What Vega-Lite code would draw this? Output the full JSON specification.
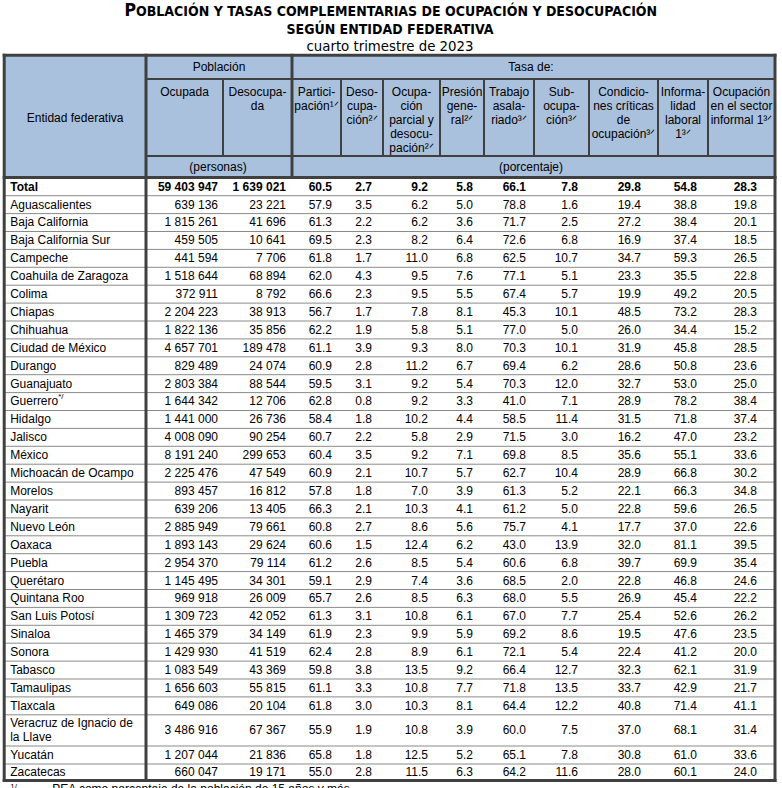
{
"$schema":"https://vega.github.io/schema/vega-lite/v6.json",
"width":782,"height":788,"autosize":{"type":"none"},"padding":0,
"config":{"view":{"stroke":null},"locale":{"number":{"decimal":".","thousands":" ","grouping":[3],"currency":["$",""]}},"text":{"font":"Liberation Sans","fontSize":12,"fill":"#000000"}},
"datasets":{"tabla":[
{"entidad":"Total","ocupada":59403947,"desocupada":1639021,"participacion":60.5,"desocupacion":2.7,"parcial":9.2,"presion":5.8,"asalariado":66.1,"subocupacion":7.8,"criticas":29.8,"informalidad":54.8,"sector_informal":28.3},
{"entidad":"Aguascalientes","ocupada":639136,"desocupada":23221,"participacion":57.9,"desocupacion":3.5,"parcial":6.2,"presion":5.0,"asalariado":78.8,"subocupacion":1.6,"criticas":19.4,"informalidad":38.8,"sector_informal":19.8},
{"entidad":"Baja California","ocupada":1815261,"desocupada":41696,"participacion":61.3,"desocupacion":2.2,"parcial":6.2,"presion":3.6,"asalariado":71.7,"subocupacion":2.5,"criticas":27.2,"informalidad":38.4,"sector_informal":20.1},
{"entidad":"Baja California Sur","ocupada":459505,"desocupada":10641,"participacion":69.5,"desocupacion":2.3,"parcial":8.2,"presion":6.4,"asalariado":72.6,"subocupacion":6.8,"criticas":16.9,"informalidad":37.4,"sector_informal":18.5},
{"entidad":"Campeche","ocupada":441594,"desocupada":7706,"participacion":61.8,"desocupacion":1.7,"parcial":11.0,"presion":6.8,"asalariado":62.5,"subocupacion":10.7,"criticas":34.7,"informalidad":59.3,"sector_informal":26.5},
{"entidad":"Coahuila de Zaragoza","ocupada":1518644,"desocupada":68894,"participacion":62.0,"desocupacion":4.3,"parcial":9.5,"presion":7.6,"asalariado":77.1,"subocupacion":5.1,"criticas":23.3,"informalidad":35.5,"sector_informal":22.8},
{"entidad":"Colima","ocupada":372911,"desocupada":8792,"participacion":66.6,"desocupacion":2.3,"parcial":9.5,"presion":5.5,"asalariado":67.4,"subocupacion":5.7,"criticas":19.9,"informalidad":49.2,"sector_informal":20.5},
{"entidad":"Chiapas","ocupada":2204223,"desocupada":38913,"participacion":56.7,"desocupacion":1.7,"parcial":7.8,"presion":8.1,"asalariado":45.3,"subocupacion":10.1,"criticas":48.5,"informalidad":73.2,"sector_informal":28.3},
{"entidad":"Chihuahua","ocupada":1822136,"desocupada":35856,"participacion":62.2,"desocupacion":1.9,"parcial":5.8,"presion":5.1,"asalariado":77.0,"subocupacion":5.0,"criticas":26.0,"informalidad":34.4,"sector_informal":15.2},
{"entidad":"Ciudad de México","ocupada":4657701,"desocupada":189478,"participacion":61.1,"desocupacion":3.9,"parcial":9.3,"presion":8.0,"asalariado":70.3,"subocupacion":10.1,"criticas":31.9,"informalidad":45.8,"sector_informal":28.5},
{"entidad":"Durango","ocupada":829489,"desocupada":24074,"participacion":60.9,"desocupacion":2.8,"parcial":11.2,"presion":6.7,"asalariado":69.4,"subocupacion":6.2,"criticas":28.6,"informalidad":50.8,"sector_informal":23.6},
{"entidad":"Guanajuato","ocupada":2803384,"desocupada":88544,"participacion":59.5,"desocupacion":3.1,"parcial":9.2,"presion":5.4,"asalariado":70.3,"subocupacion":12.0,"criticas":32.7,"informalidad":53.0,"sector_informal":25.0},
{"entidad":"Guerrero","nota":"*/","ocupada":1644342,"desocupada":12706,"participacion":62.8,"desocupacion":0.8,"parcial":9.2,"presion":3.3,"asalariado":41.0,"subocupacion":7.1,"criticas":28.9,"informalidad":78.2,"sector_informal":38.4},
{"entidad":"Hidalgo","ocupada":1441000,"desocupada":26736,"participacion":58.4,"desocupacion":1.8,"parcial":10.2,"presion":4.4,"asalariado":58.5,"subocupacion":11.4,"criticas":31.5,"informalidad":71.8,"sector_informal":37.4},
{"entidad":"Jalisco","ocupada":4008090,"desocupada":90254,"participacion":60.7,"desocupacion":2.2,"parcial":5.8,"presion":2.9,"asalariado":71.5,"subocupacion":3.0,"criticas":16.2,"informalidad":47.0,"sector_informal":23.2},
{"entidad":"México","ocupada":8191240,"desocupada":299653,"participacion":60.4,"desocupacion":3.5,"parcial":9.2,"presion":7.1,"asalariado":69.8,"subocupacion":8.5,"criticas":35.6,"informalidad":55.1,"sector_informal":33.6},
{"entidad":"Michoacán de Ocampo","ocupada":2225476,"desocupada":47549,"participacion":60.9,"desocupacion":2.1,"parcial":10.7,"presion":5.7,"asalariado":62.7,"subocupacion":10.4,"criticas":28.9,"informalidad":66.8,"sector_informal":30.2},
{"entidad":"Morelos","ocupada":893457,"desocupada":16812,"participacion":57.8,"desocupacion":1.8,"parcial":7.0,"presion":3.9,"asalariado":61.3,"subocupacion":5.2,"criticas":22.1,"informalidad":66.3,"sector_informal":34.8},
{"entidad":"Nayarit","ocupada":639206,"desocupada":13405,"participacion":66.3,"desocupacion":2.1,"parcial":10.3,"presion":4.1,"asalariado":61.2,"subocupacion":5.0,"criticas":22.8,"informalidad":59.6,"sector_informal":26.5},
{"entidad":"Nuevo León","ocupada":2885949,"desocupada":79661,"participacion":60.8,"desocupacion":2.7,"parcial":8.6,"presion":5.6,"asalariado":75.7,"subocupacion":4.1,"criticas":17.7,"informalidad":37.0,"sector_informal":22.6},
{"entidad":"Oaxaca","ocupada":1893143,"desocupada":29624,"participacion":60.6,"desocupacion":1.5,"parcial":12.4,"presion":6.2,"asalariado":43.0,"subocupacion":13.9,"criticas":32.0,"informalidad":81.1,"sector_informal":39.5},
{"entidad":"Puebla","ocupada":2954370,"desocupada":79114,"participacion":61.2,"desocupacion":2.6,"parcial":8.5,"presion":5.4,"asalariado":60.6,"subocupacion":6.8,"criticas":39.7,"informalidad":69.9,"sector_informal":35.4},
{"entidad":"Querétaro","ocupada":1145495,"desocupada":34301,"participacion":59.1,"desocupacion":2.9,"parcial":7.4,"presion":3.6,"asalariado":68.5,"subocupacion":2.0,"criticas":22.8,"informalidad":46.8,"sector_informal":24.6},
{"entidad":"Quintana Roo","ocupada":969918,"desocupada":26009,"participacion":65.7,"desocupacion":2.6,"parcial":8.5,"presion":6.3,"asalariado":68.0,"subocupacion":5.5,"criticas":26.9,"informalidad":45.4,"sector_informal":22.2},
{"entidad":"San Luis Potosí","ocupada":1309723,"desocupada":42052,"participacion":61.3,"desocupacion":3.1,"parcial":10.8,"presion":6.1,"asalariado":67.0,"subocupacion":7.7,"criticas":25.4,"informalidad":52.6,"sector_informal":26.2},
{"entidad":"Sinaloa","ocupada":1465379,"desocupada":34149,"participacion":61.9,"desocupacion":2.3,"parcial":9.9,"presion":5.9,"asalariado":69.2,"subocupacion":8.6,"criticas":19.5,"informalidad":47.6,"sector_informal":23.5},
{"entidad":"Sonora","ocupada":1429930,"desocupada":41519,"participacion":62.4,"desocupacion":2.8,"parcial":8.9,"presion":6.1,"asalariado":72.1,"subocupacion":5.4,"criticas":22.4,"informalidad":41.2,"sector_informal":20.0},
{"entidad":"Tabasco","ocupada":1083549,"desocupada":43369,"participacion":59.8,"desocupacion":3.8,"parcial":13.5,"presion":9.2,"asalariado":66.4,"subocupacion":12.7,"criticas":32.3,"informalidad":62.1,"sector_informal":31.9},
{"entidad":"Tamaulipas","ocupada":1656603,"desocupada":55815,"participacion":61.1,"desocupacion":3.3,"parcial":10.8,"presion":7.7,"asalariado":71.8,"subocupacion":13.5,"criticas":33.7,"informalidad":42.9,"sector_informal":21.7},
{"entidad":"Tlaxcala","ocupada":649086,"desocupada":20104,"participacion":61.8,"desocupacion":3.0,"parcial":10.3,"presion":8.1,"asalariado":64.4,"subocupacion":12.2,"criticas":40.8,"informalidad":71.4,"sector_informal":41.1},
{"entidad":"Veracruz de Ignacio de\nla Llave","ocupada":3486916,"desocupada":67367,"participacion":55.9,"desocupacion":1.9,"parcial":10.8,"presion":3.9,"asalariado":60.0,"subocupacion":7.5,"criticas":37.0,"informalidad":68.1,"sector_informal":31.4},
{"entidad":"Yucatán","ocupada":1207044,"desocupada":21836,"participacion":65.8,"desocupacion":1.8,"parcial":12.5,"presion":5.2,"asalariado":65.1,"subocupacion":7.8,"criticas":30.8,"informalidad":61.0,"sector_informal":33.6},
{"entidad":"Zacatecas","ocupada":660047,"desocupada":19171,"participacion":55.0,"desocupacion":2.8,"parcial":11.5,"presion":6.3,"asalariado":64.2,"subocupacion":11.6,"criticas":28.0,"informalidad":60.1,"sector_informal":24.0}
]},
"resolve":{"scale":{"y":"independent"}},
"layer":[
{"layer":[
{"data":{"values":[{}]},"mark":{"type":"rect","fill":"#aac1de"},"encoding":{"x":{"datum":0,"type":"quantitative","scale":{"domain":[0,1,2,3,4,5,6,7,8,9,10,11,12],"range":[4.2,146,223,292,341,383,440,484,534,589,658,708,775],"nice":false,"zero":false},"axis":null},"x2":{"datum":12},"y":{"datum":-3,"type":"quantitative","scale":{"domain":[-6,-5,-4,-3,-2,-1,0,1,30,31,32,33],"range":[16,33.5,50.5,55.3,79,156,177.5,195.7,714.8,746,764,780.5],"nice":false,"zero":false},"axis":null},"y2":{"datum":0}}},
{"data":{"name":"tabla"},"transform":[{"window":[{"op":"row_number","as":"n"}]}],"mark":{"type":"rule","stroke":"#8a8a8a","strokeWidth":1},"encoding":{"x":{"datum":0,"type":"quantitative","scale":{"domain":[0,1,2,3,4,5,6,7,8,9,10,11,12],"range":[4.2,146,223,292,341,383,440,484,534,589,658,708,775],"nice":false,"zero":false},"axis":null},"x2":{"datum":12},"y":{"field":"n","type":"quantitative","scale":{"domain":[-6,-5,-4,-3,-2,-1,0,1,30,31,32,33],"range":[16,33.5,50.5,55.3,79,156,177.5,195.7,714.8,746,764,780.5],"nice":false,"zero":false},"axis":null}}},
{"data":{"values":[{}]},"mark":{"type":"rule","stroke":"#404040","strokeWidth":2},"encoding":{"x":{"datum":1,"type":"quantitative","scale":{"domain":[0,1,2,3,4,5,6,7,8,9,10,11,12],"range":[4.2,146,223,292,341,383,440,484,534,589,658,708,775],"nice":false,"zero":false},"axis":null},"x2":{"datum":12},"y":{"datum":-2,"type":"quantitative","scale":{"domain":[-6,-5,-4,-3,-2,-1,0,1,30,31,32,33],"range":[16,33.5,50.5,55.3,79,156,177.5,195.7,714.8,746,764,780.5],"nice":false,"zero":false},"axis":null}}},
{"data":{"values":[{}]},"mark":{"type":"rule","stroke":"#404040","strokeWidth":2},"encoding":{"x":{"datum":1,"type":"quantitative","scale":{"domain":[0,1,2,3,4,5,6,7,8,9,10,11,12],"range":[4.2,146,223,292,341,383,440,484,534,589,658,708,775],"nice":false,"zero":false},"axis":null},"x2":{"datum":12},"y":{"datum":-1,"type":"quantitative","scale":{"domain":[-6,-5,-4,-3,-2,-1,0,1,30,31,32,33],"range":[16,33.5,50.5,55.3,79,156,177.5,195.7,714.8,746,764,780.5],"nice":false,"zero":false},"axis":null}}},
{"data":{"values":[{}]},"mark":{"type":"rule","stroke":"#404040","strokeWidth":2},"encoding":{"x":{"datum":2,"type":"quantitative","scale":{"domain":[0,1,2,3,4,5,6,7,8,9,10,11,12],"range":[4.2,146,223,292,341,383,440,484,534,589,658,708,775],"nice":false,"zero":false},"axis":null},"y":{"datum":-2,"type":"quantitative","scale":{"domain":[-6,-5,-4,-3,-2,-1,0,1,30,31,32,33],"range":[16,33.5,50.5,55.3,79,156,177.5,195.7,714.8,746,764,780.5],"nice":false,"zero":false},"axis":null},"y2":{"datum":-1}}},
{"data":{"values":[{}]},"mark":{"type":"rule","stroke":"#404040","strokeWidth":2},"encoding":{"x":{"datum":4,"type":"quantitative","scale":{"domain":[0,1,2,3,4,5,6,7,8,9,10,11,12],"range":[4.2,146,223,292,341,383,440,484,534,589,658,708,775],"nice":false,"zero":false},"axis":null},"y":{"datum":-2,"type":"quantitative","scale":{"domain":[-6,-5,-4,-3,-2,-1,0,1,30,31,32,33],"range":[16,33.5,50.5,55.3,79,156,177.5,195.7,714.8,746,764,780.5],"nice":false,"zero":false},"axis":null},"y2":{"datum":-1}}},
{"data":{"values":[{}]},"mark":{"type":"rule","stroke":"#404040","strokeWidth":2},"encoding":{"x":{"datum":5,"type":"quantitative","scale":{"domain":[0,1,2,3,4,5,6,7,8,9,10,11,12],"range":[4.2,146,223,292,341,383,440,484,534,589,658,708,775],"nice":false,"zero":false},"axis":null},"y":{"datum":-2,"type":"quantitative","scale":{"domain":[-6,-5,-4,-3,-2,-1,0,1,30,31,32,33],"range":[16,33.5,50.5,55.3,79,156,177.5,195.7,714.8,746,764,780.5],"nice":false,"zero":false},"axis":null},"y2":{"datum":-1}}},
{"data":{"values":[{}]},"mark":{"type":"rule","stroke":"#404040","strokeWidth":2},"encoding":{"x":{"datum":6,"type":"quantitative","scale":{"domain":[0,1,2,3,4,5,6,7,8,9,10,11,12],"range":[4.2,146,223,292,341,383,440,484,534,589,658,708,775],"nice":false,"zero":false},"axis":null},"y":{"datum":-2,"type":"quantitative","scale":{"domain":[-6,-5,-4,-3,-2,-1,0,1,30,31,32,33],"range":[16,33.5,50.5,55.3,79,156,177.5,195.7,714.8,746,764,780.5],"nice":false,"zero":false},"axis":null},"y2":{"datum":-1}}},
{"data":{"values":[{}]},"mark":{"type":"rule","stroke":"#404040","strokeWidth":2},"encoding":{"x":{"datum":7,"type":"quantitative","scale":{"domain":[0,1,2,3,4,5,6,7,8,9,10,11,12],"range":[4.2,146,223,292,341,383,440,484,534,589,658,708,775],"nice":false,"zero":false},"axis":null},"y":{"datum":-2,"type":"quantitative","scale":{"domain":[-6,-5,-4,-3,-2,-1,0,1,30,31,32,33],"range":[16,33.5,50.5,55.3,79,156,177.5,195.7,714.8,746,764,780.5],"nice":false,"zero":false},"axis":null},"y2":{"datum":-1}}},
{"data":{"values":[{}]},"mark":{"type":"rule","stroke":"#404040","strokeWidth":2},"encoding":{"x":{"datum":8,"type":"quantitative","scale":{"domain":[0,1,2,3,4,5,6,7,8,9,10,11,12],"range":[4.2,146,223,292,341,383,440,484,534,589,658,708,775],"nice":false,"zero":false},"axis":null},"y":{"datum":-2,"type":"quantitative","scale":{"domain":[-6,-5,-4,-3,-2,-1,0,1,30,31,32,33],"range":[16,33.5,50.5,55.3,79,156,177.5,195.7,714.8,746,764,780.5],"nice":false,"zero":false},"axis":null},"y2":{"datum":-1}}},
{"data":{"values":[{}]},"mark":{"type":"rule","stroke":"#404040","strokeWidth":2},"encoding":{"x":{"datum":9,"type":"quantitative","scale":{"domain":[0,1,2,3,4,5,6,7,8,9,10,11,12],"range":[4.2,146,223,292,341,383,440,484,534,589,658,708,775],"nice":false,"zero":false},"axis":null},"y":{"datum":-2,"type":"quantitative","scale":{"domain":[-6,-5,-4,-3,-2,-1,0,1,30,31,32,33],"range":[16,33.5,50.5,55.3,79,156,177.5,195.7,714.8,746,764,780.5],"nice":false,"zero":false},"axis":null},"y2":{"datum":-1}}},
{"data":{"values":[{}]},"mark":{"type":"rule","stroke":"#404040","strokeWidth":2},"encoding":{"x":{"datum":10,"type":"quantitative","scale":{"domain":[0,1,2,3,4,5,6,7,8,9,10,11,12],"range":[4.2,146,223,292,341,383,440,484,534,589,658,708,775],"nice":false,"zero":false},"axis":null},"y":{"datum":-2,"type":"quantitative","scale":{"domain":[-6,-5,-4,-3,-2,-1,0,1,30,31,32,33],"range":[16,33.5,50.5,55.3,79,156,177.5,195.7,714.8,746,764,780.5],"nice":false,"zero":false},"axis":null},"y2":{"datum":-1}}},
{"data":{"values":[{}]},"mark":{"type":"rule","stroke":"#404040","strokeWidth":2},"encoding":{"x":{"datum":11,"type":"quantitative","scale":{"domain":[0,1,2,3,4,5,6,7,8,9,10,11,12],"range":[4.2,146,223,292,341,383,440,484,534,589,658,708,775],"nice":false,"zero":false},"axis":null},"y":{"datum":-2,"type":"quantitative","scale":{"domain":[-6,-5,-4,-3,-2,-1,0,1,30,31,32,33],"range":[16,33.5,50.5,55.3,79,156,177.5,195.7,714.8,746,764,780.5],"nice":false,"zero":false},"axis":null},"y2":{"datum":-1}}},
{"data":{"values":[{}]},"mark":{"type":"rule","stroke":"#404040","strokeWidth":3,"strokeCap":"square"},"encoding":{"x":{"datum":3,"type":"quantitative","scale":{"domain":[0,1,2,3,4,5,6,7,8,9,10,11,12],"range":[4.2,146,223,292,341,383,440,484,534,589,658,708,775],"nice":false,"zero":false},"axis":null},"y":{"datum":-3,"type":"quantitative","scale":{"domain":[-6,-5,-4,-3,-2,-1,0,1,30,31,32,33],"range":[16,33.5,50.5,55.3,79,156,177.5,195.7,714.8,746,764,780.5],"nice":false,"zero":false},"axis":null},"y2":{"datum":0}}},
{"data":{"values":[{}]},"mark":{"type":"rule","stroke":"#404040","strokeWidth":3,"strokeCap":"square"},"encoding":{"x":{"datum":1,"type":"quantitative","scale":{"domain":[0,1,2,3,4,5,6,7,8,9,10,11,12],"range":[4.2,146,223,292,341,383,440,484,534,589,658,708,775],"nice":false,"zero":false},"axis":null},"y":{"datum":-3,"type":"quantitative","scale":{"domain":[-6,-5,-4,-3,-2,-1,0,1,30,31,32,33],"range":[16,33.5,50.5,55.3,79,156,177.5,195.7,714.8,746,764,780.5],"nice":false,"zero":false},"axis":null},"y2":{"datum":33}}},
{"data":{"values":[{}]},"mark":{"type":"rule","stroke":"#404040","strokeWidth":3,"strokeCap":"square"},"encoding":{"x":{"datum":0,"type":"quantitative","scale":{"domain":[0,1,2,3,4,5,6,7,8,9,10,11,12],"range":[4.2,146,223,292,341,383,440,484,534,589,658,708,775],"nice":false,"zero":false},"axis":null},"y":{"datum":-3,"type":"quantitative","scale":{"domain":[-6,-5,-4,-3,-2,-1,0,1,30,31,32,33],"range":[16,33.5,50.5,55.3,79,156,177.5,195.7,714.8,746,764,780.5],"nice":false,"zero":false},"axis":null},"y2":{"datum":33}}},
{"data":{"values":[{}]},"mark":{"type":"rule","stroke":"#404040","strokeWidth":3,"strokeCap":"square"},"encoding":{"x":{"datum":12,"type":"quantitative","scale":{"domain":[0,1,2,3,4,5,6,7,8,9,10,11,12],"range":[4.2,146,223,292,341,383,440,484,534,589,658,708,775],"nice":false,"zero":false},"axis":null},"y":{"datum":-3,"type":"quantitative","scale":{"domain":[-6,-5,-4,-3,-2,-1,0,1,30,31,32,33],"range":[16,33.5,50.5,55.3,79,156,177.5,195.7,714.8,746,764,780.5],"nice":false,"zero":false},"axis":null},"y2":{"datum":33}}},
{"data":{"values":[{}]},"mark":{"type":"rule","stroke":"#404040","strokeWidth":3,"strokeCap":"square"},"encoding":{"x":{"datum":0,"type":"quantitative","scale":{"domain":[0,1,2,3,4,5,6,7,8,9,10,11,12],"range":[4.2,146,223,292,341,383,440,484,534,589,658,708,775],"nice":false,"zero":false},"axis":null},"x2":{"datum":12},"y":{"datum":-3,"type":"quantitative","scale":{"domain":[-6,-5,-4,-3,-2,-1,0,1,30,31,32,33],"range":[16,33.5,50.5,55.3,79,156,177.5,195.7,714.8,746,764,780.5],"nice":false,"zero":false},"axis":null}}},
{"data":{"values":[{}]},"mark":{"type":"rule","stroke":"#404040","strokeWidth":3,"strokeCap":"square"},"encoding":{"x":{"datum":0,"type":"quantitative","scale":{"domain":[0,1,2,3,4,5,6,7,8,9,10,11,12],"range":[4.2,146,223,292,341,383,440,484,534,589,658,708,775],"nice":false,"zero":false},"axis":null},"x2":{"datum":12},"y":{"datum":0,"type":"quantitative","scale":{"domain":[-6,-5,-4,-3,-2,-1,0,1,30,31,32,33],"range":[16,33.5,50.5,55.3,79,156,177.5,195.7,714.8,746,764,780.5],"nice":false,"zero":false},"axis":null}}},
{"data":{"values":[{}]},"mark":{"type":"rule","stroke":"#404040","strokeWidth":3,"strokeCap":"square"},"encoding":{"x":{"datum":0,"type":"quantitative","scale":{"domain":[0,1,2,3,4,5,6,7,8,9,10,11,12],"range":[4.2,146,223,292,341,383,440,484,534,589,658,708,775],"nice":false,"zero":false},"axis":null},"x2":{"datum":12},"y":{"datum":33,"type":"quantitative","scale":{"domain":[-6,-5,-4,-3,-2,-1,0,1,30,31,32,33],"range":[16,33.5,50.5,55.3,79,156,177.5,195.7,714.8,746,764,780.5],"nice":false,"zero":false},"axis":null}}},
{"data":{"values":[{}]},"mark":{"type":"text","align":"right","baseline":"alphabetic","dx":-10,"font":"DejaVu Sans Condensed","fontWeight":"bold","fontSize":17.5},"encoding":{"text":{"value":"P"},"x":{"datum":1,"type":"quantitative","scale":{"domain":[0,1,2,3,4,5,6,7,8,9,10,11,12],"range":[4.2,146,223,292,341,383,440,484,534,589,658,708,775],"nice":false,"zero":false},"axis":null},"y":{"datum":-6,"type":"quantitative","scale":{"domain":[-6,-5,-4,-3,-2,-1,0,1,30,31,32,33],"range":[16,33.5,50.5,55.3,79,156,177.5,195.7,714.8,746,764,780.5],"nice":false,"zero":false},"axis":null}}},
{"data":{"values":[{}]},"mark":{"type":"text","align":"left","baseline":"alphabetic","dx":-10,"font":"DejaVu Sans Condensed","fontWeight":"bold","fontSize":14},"encoding":{"text":{"value":"OBLACIÓN Y TASAS COMPLEMENTARIAS DE OCUPACIÓN Y DESOCUPACIÓN"},"x":{"datum":1,"type":"quantitative","scale":{"domain":[0,1,2,3,4,5,6,7,8,9,10,11,12],"range":[4.2,146,223,292,341,383,440,484,534,589,658,708,775],"nice":false,"zero":false},"axis":null},"y":{"datum":-6,"type":"quantitative","scale":{"domain":[-6,-5,-4,-3,-2,-1,0,1,30,31,32,33],"range":[16,33.5,50.5,55.3,79,156,177.5,195.7,714.8,746,764,780.5],"nice":false,"zero":false},"axis":null}}},
{"data":{"values":[{}]},"mark":{"type":"text","align":"center","baseline":"alphabetic","dx":7,"font":"DejaVu Sans Condensed","fontWeight":"bold","fontSize":14},"encoding":{"text":{"value":"SEGÚN ENTIDAD FEDERATIVA"},"x":{"datum":5,"type":"quantitative","scale":{"domain":[0,1,2,3,4,5,6,7,8,9,10,11,12],"range":[4.2,146,223,292,341,383,440,484,534,589,658,708,775],"nice":false,"zero":false},"axis":null},"y":{"datum":-5,"type":"quantitative","scale":{"domain":[-6,-5,-4,-3,-2,-1,0,1,30,31,32,33],"range":[16,33.5,50.5,55.3,79,156,177.5,195.7,714.8,746,764,780.5],"nice":false,"zero":false},"axis":null}}},
{"data":{"values":[{}]},"mark":{"type":"text","align":"center","baseline":"alphabetic","dx":7,"font":"DejaVu Sans Condensed","fontSize":14.8},"encoding":{"text":{"value":"cuarto trimestre de 2023"},"x":{"datum":5,"type":"quantitative","scale":{"domain":[0,1,2,3,4,5,6,7,8,9,10,11,12],"range":[4.2,146,223,292,341,383,440,484,534,589,658,708,775],"nice":false,"zero":false},"axis":null},"y":{"datum":-4,"type":"quantitative","scale":{"domain":[-6,-5,-4,-3,-2,-1,0,1,30,31,32,33],"range":[16,33.5,50.5,55.3,79,156,177.5,195.7,714.8,746,764,780.5],"nice":false,"zero":false},"axis":null}}},
{"data":{"values":[{}]},"mark":{"type":"text","align":"center","baseline":"middle"},"encoding":{"text":{"value":"Entidad federativa"},"x":{"datum":0.5,"type":"quantitative","scale":{"domain":[0,1,2,3,4,5,6,7,8,9,10,11,12],"range":[4.2,146,223,292,341,383,440,484,534,589,658,708,775],"nice":false,"zero":false},"axis":null},"y":{"datum":-1.5,"type":"quantitative","scale":{"domain":[-6,-5,-4,-3,-2,-1,0,1,30,31,32,33],"range":[16,33.5,50.5,55.3,79,156,177.5,195.7,714.8,746,764,780.5],"nice":false,"zero":false},"axis":null}}},
{"data":{"values":[{}]},"mark":{"type":"text","align":"center","baseline":"middle","dx":-4},"encoding":{"text":{"value":"Población"},"x":{"datum":2,"type":"quantitative","scale":{"domain":[0,1,2,3,4,5,6,7,8,9,10,11,12],"range":[4.2,146,223,292,341,383,440,484,534,589,658,708,775],"nice":false,"zero":false},"axis":null},"y":{"datum":-2.5,"type":"quantitative","scale":{"domain":[-6,-5,-4,-3,-2,-1,0,1,30,31,32,33],"range":[16,33.5,50.5,55.3,79,156,177.5,195.7,714.8,746,764,780.5],"nice":false,"zero":false},"axis":null}}},
{"data":{"values":[{}]},"mark":{"type":"text","align":"center","baseline":"middle","dx":-3},"encoding":{"text":{"value":"Tasa de:"},"x":{"datum":8,"type":"quantitative","scale":{"domain":[0,1,2,3,4,5,6,7,8,9,10,11,12],"range":[4.2,146,223,292,341,383,440,484,534,589,658,708,775],"nice":false,"zero":false},"axis":null},"y":{"datum":-2.5,"type":"quantitative","scale":{"domain":[-6,-5,-4,-3,-2,-1,0,1,30,31,32,33],"range":[16,33.5,50.5,55.3,79,156,177.5,195.7,714.8,746,764,780.5],"nice":false,"zero":false},"axis":null}}},
{"data":{"values":[{}]},"mark":{"type":"text","align":"center","baseline":"middle","dx":-5},"encoding":{"text":{"value":"(personas)"},"x":{"datum":2,"type":"quantitative","scale":{"domain":[0,1,2,3,4,5,6,7,8,9,10,11,12],"range":[4.2,146,223,292,341,383,440,484,534,589,658,708,775],"nice":false,"zero":false},"axis":null},"y":{"datum":-0.5,"type":"quantitative","scale":{"domain":[-6,-5,-4,-3,-2,-1,0,1,30,31,32,33],"range":[16,33.5,50.5,55.3,79,156,177.5,195.7,714.8,746,764,780.5],"nice":false,"zero":false},"axis":null}}},
{"data":{"values":[{}]},"mark":{"type":"text","align":"center","baseline":"middle","dx":-3},"encoding":{"text":{"value":"(porcentaje)"},"x":{"datum":8,"type":"quantitative","scale":{"domain":[0,1,2,3,4,5,6,7,8,9,10,11,12],"range":[4.2,146,223,292,341,383,440,484,534,589,658,708,775],"nice":false,"zero":false},"axis":null},"y":{"datum":-0.5,"type":"quantitative","scale":{"domain":[-6,-5,-4,-3,-2,-1,0,1,30,31,32,33],"range":[16,33.5,50.5,55.3,79,156,177.5,195.7,714.8,746,764,780.5],"nice":false,"zero":false},"axis":null}}},
{"data":{"values":[{}]},"mark":{"type":"text","align":"center","baseline":"top","dy":8,"lineHeight":14},"encoding":{"text":{"value":["Ocupada"]},"x":{"datum":1.5,"type":"quantitative","scale":{"domain":[0,1,2,3,4,5,6,7,8,9,10,11,12],"range":[4.2,146,223,292,341,383,440,484,534,589,658,708,775],"nice":false,"zero":false},"axis":null},"y":{"datum":-2,"type":"quantitative","scale":{"domain":[-6,-5,-4,-3,-2,-1,0,1,30,31,32,33],"range":[16,33.5,50.5,55.3,79,156,177.5,195.7,714.8,746,764,780.5],"nice":false,"zero":false},"axis":null}}},
{"data":{"values":[{}]},"mark":{"type":"text","align":"center","baseline":"top","dy":8,"lineHeight":14},"encoding":{"text":{"value":["Desocupa-","da"]},"x":{"datum":2.5,"type":"quantitative","scale":{"domain":[0,1,2,3,4,5,6,7,8,9,10,11,12],"range":[4.2,146,223,292,341,383,440,484,534,589,658,708,775],"nice":false,"zero":false},"axis":null},"y":{"datum":-2,"type":"quantitative","scale":{"domain":[-6,-5,-4,-3,-2,-1,0,1,30,31,32,33],"range":[16,33.5,50.5,55.3,79,156,177.5,195.7,714.8,746,764,780.5],"nice":false,"zero":false},"axis":null}}},
{"data":{"values":[{}]},"mark":{"type":"text","align":"center","baseline":"top","dy":8,"lineHeight":14},"encoding":{"text":{"value":["Partici-","pación¹ᐟ"]},"x":{"datum":3.5,"type":"quantitative","scale":{"domain":[0,1,2,3,4,5,6,7,8,9,10,11,12],"range":[4.2,146,223,292,341,383,440,484,534,589,658,708,775],"nice":false,"zero":false},"axis":null},"y":{"datum":-2,"type":"quantitative","scale":{"domain":[-6,-5,-4,-3,-2,-1,0,1,30,31,32,33],"range":[16,33.5,50.5,55.3,79,156,177.5,195.7,714.8,746,764,780.5],"nice":false,"zero":false},"axis":null}}},
{"data":{"values":[{}]},"mark":{"type":"text","align":"center","baseline":"top","dy":8,"lineHeight":14},"encoding":{"text":{"value":["Deso-","cupa-","ción²ᐟ"]},"x":{"datum":4.5,"type":"quantitative","scale":{"domain":[0,1,2,3,4,5,6,7,8,9,10,11,12],"range":[4.2,146,223,292,341,383,440,484,534,589,658,708,775],"nice":false,"zero":false},"axis":null},"y":{"datum":-2,"type":"quantitative","scale":{"domain":[-6,-5,-4,-3,-2,-1,0,1,30,31,32,33],"range":[16,33.5,50.5,55.3,79,156,177.5,195.7,714.8,746,764,780.5],"nice":false,"zero":false},"axis":null}}},
{"data":{"values":[{}]},"mark":{"type":"text","align":"center","baseline":"top","dy":8,"lineHeight":14},"encoding":{"text":{"value":["Ocupa-","ción","parcial y","desocu-","pación²ᐟ"]},"x":{"datum":5.5,"type":"quantitative","scale":{"domain":[0,1,2,3,4,5,6,7,8,9,10,11,12],"range":[4.2,146,223,292,341,383,440,484,534,589,658,708,775],"nice":false,"zero":false},"axis":null},"y":{"datum":-2,"type":"quantitative","scale":{"domain":[-6,-5,-4,-3,-2,-1,0,1,30,31,32,33],"range":[16,33.5,50.5,55.3,79,156,177.5,195.7,714.8,746,764,780.5],"nice":false,"zero":false},"axis":null}}},
{"data":{"values":[{}]},"mark":{"type":"text","align":"center","baseline":"top","dy":8,"lineHeight":14},"encoding":{"text":{"value":["Presión","gene-","ral²ᐟ"]},"x":{"datum":6.5,"type":"quantitative","scale":{"domain":[0,1,2,3,4,5,6,7,8,9,10,11,12],"range":[4.2,146,223,292,341,383,440,484,534,589,658,708,775],"nice":false,"zero":false},"axis":null},"y":{"datum":-2,"type":"quantitative","scale":{"domain":[-6,-5,-4,-3,-2,-1,0,1,30,31,32,33],"range":[16,33.5,50.5,55.3,79,156,177.5,195.7,714.8,746,764,780.5],"nice":false,"zero":false},"axis":null}}},
{"data":{"values":[{}]},"mark":{"type":"text","align":"center","baseline":"top","dy":8,"lineHeight":14},"encoding":{"text":{"value":["Trabajo","asala-","riado³ᐟ"]},"x":{"datum":7.5,"type":"quantitative","scale":{"domain":[0,1,2,3,4,5,6,7,8,9,10,11,12],"range":[4.2,146,223,292,341,383,440,484,534,589,658,708,775],"nice":false,"zero":false},"axis":null},"y":{"datum":-2,"type":"quantitative","scale":{"domain":[-6,-5,-4,-3,-2,-1,0,1,30,31,32,33],"range":[16,33.5,50.5,55.3,79,156,177.5,195.7,714.8,746,764,780.5],"nice":false,"zero":false},"axis":null}}},
{"data":{"values":[{}]},"mark":{"type":"text","align":"center","baseline":"top","dy":8,"lineHeight":14},"encoding":{"text":{"value":["Sub-","ocupa-","ción³ᐟ"]},"x":{"datum":8.5,"type":"quantitative","scale":{"domain":[0,1,2,3,4,5,6,7,8,9,10,11,12],"range":[4.2,146,223,292,341,383,440,484,534,589,658,708,775],"nice":false,"zero":false},"axis":null},"y":{"datum":-2,"type":"quantitative","scale":{"domain":[-6,-5,-4,-3,-2,-1,0,1,30,31,32,33],"range":[16,33.5,50.5,55.3,79,156,177.5,195.7,714.8,746,764,780.5],"nice":false,"zero":false},"axis":null}}},
{"data":{"values":[{}]},"mark":{"type":"text","align":"center","baseline":"top","dy":8,"lineHeight":14},"encoding":{"text":{"value":["Condicio-","nes críticas","de","ocupación³ᐟ"]},"x":{"datum":9.5,"type":"quantitative","scale":{"domain":[0,1,2,3,4,5,6,7,8,9,10,11,12],"range":[4.2,146,223,292,341,383,440,484,534,589,658,708,775],"nice":false,"zero":false},"axis":null},"y":{"datum":-2,"type":"quantitative","scale":{"domain":[-6,-5,-4,-3,-2,-1,0,1,30,31,32,33],"range":[16,33.5,50.5,55.3,79,156,177.5,195.7,714.8,746,764,780.5],"nice":false,"zero":false},"axis":null}}},
{"data":{"values":[{}]},"mark":{"type":"text","align":"center","baseline":"top","dy":8,"lineHeight":14},"encoding":{"text":{"value":["Informa-","lidad","laboral","1³ᐟ"]},"x":{"datum":10.5,"type":"quantitative","scale":{"domain":[0,1,2,3,4,5,6,7,8,9,10,11,12],"range":[4.2,146,223,292,341,383,440,484,534,589,658,708,775],"nice":false,"zero":false},"axis":null},"y":{"datum":-2,"type":"quantitative","scale":{"domain":[-6,-5,-4,-3,-2,-1,0,1,30,31,32,33],"range":[16,33.5,50.5,55.3,79,156,177.5,195.7,714.8,746,764,780.5],"nice":false,"zero":false},"axis":null}}},
{"data":{"values":[{}]},"mark":{"type":"text","align":"center","baseline":"top","dy":8,"lineHeight":14},"encoding":{"text":{"value":["Ocupación","en el sector","informal 1³ᐟ"]},"x":{"datum":11.5,"type":"quantitative","scale":{"domain":[0,1,2,3,4,5,6,7,8,9,10,11,12],"range":[4.2,146,223,292,341,383,440,484,534,589,658,708,775],"nice":false,"zero":false},"axis":null},"y":{"datum":-2,"type":"quantitative","scale":{"domain":[-6,-5,-4,-3,-2,-1,0,1,30,31,32,33],"range":[16,33.5,50.5,55.3,79,156,177.5,195.7,714.8,746,764,780.5],"nice":false,"zero":false},"axis":null}}},
{"data":{"values":[{}]},"mark":{"type":"text","align":"left","baseline":"top","dx":6,"dy":2,"fontSize":8},"encoding":{"text":{"value":"1/"},"x":{"datum":0,"type":"quantitative","scale":{"domain":[0,1,2,3,4,5,6,7,8,9,10,11,12],"range":[4.2,146,223,292,341,383,440,484,534,589,658,708,775],"nice":false,"zero":false},"axis":null},"y":{"datum":33,"type":"quantitative","scale":{"domain":[-6,-5,-4,-3,-2,-1,0,1,30,31,32,33],"range":[16,33.5,50.5,55.3,79,156,177.5,195.7,714.8,746,764,780.5],"nice":false,"zero":false},"axis":null}}},
{"data":{"values":[{}]},"mark":{"type":"text","align":"left","baseline":"top","dx":48,"dy":3},"encoding":{"text":{"value":"PEA como porcentaje de la población de 15 años y más"},"x":{"datum":0,"type":"quantitative","scale":{"domain":[0,1,2,3,4,5,6,7,8,9,10,11,12],"range":[4.2,146,223,292,341,383,440,484,534,589,658,708,775],"nice":false,"zero":false},"axis":null},"y":{"datum":33,"type":"quantitative","scale":{"domain":[-6,-5,-4,-3,-2,-1,0,1,30,31,32,33],"range":[16,33.5,50.5,55.3,79,156,177.5,195.7,714.8,746,764,780.5],"nice":false,"zero":false},"axis":null}}}
]},
{"data":{"name":"tabla"},"transform":[{"window":[{"op":"row_number","as":"n"}]}],
 "encoding":{"y":{"field":"n","type":"quantitative","scale":{"domain":[1,30,31,32,33],"range":[186.6,705.9,730.4,755,772.3],"nice":false,"zero":false},"axis":null}},
 "layer":[
{"mark":{"type":"text","align":"left","baseline":"middle","dx":6,"lineBreak":"\n","lineHeight":14,"dy":{"expr":"indexof(datum.entidad, '\\n') >= 0 ? -7 : 0"},"fontWeight":{"expr":"datum.entidad === 'Total' ? 'bold' : 'normal'"}},"encoding":{"text":{"field":"entidad","type":"nominal"},"x":{"datum":0,"type":"quantitative","scale":{"domain":[0,1,2,3,4,5,6,7,8,9,10,11,12],"range":[4.2,146,223,292,341,383,440,484,534,589,658,708,775],"nice":false,"zero":false},"axis":null}}},
{"transform":[{"filter":"datum.nota"}],"mark":{"type":"text","align":"left","baseline":"middle","dx":54,"dy":-4,"fontSize":8},"encoding":{"text":{"field":"nota","type":"nominal"},"x":{"datum":0,"type":"quantitative","scale":{"domain":[0,1,2,3,4,5,6,7,8,9,10,11,12],"range":[4.2,146,223,292,341,383,440,484,534,589,658,708,775],"nice":false,"zero":false},"axis":null}}},
{"mark":{"type":"text","align":"right","baseline":"middle","dx":-5,"fontWeight":{"expr":"datum.entidad === 'Total' ? 'bold' : 'normal'"}},"encoding":{"text":{"field":"ocupada","type":"quantitative","format":",d"},"x":{"datum":2,"type":"quantitative","scale":{"domain":[0,1,2,3,4,5,6,7,8,9,10,11,12],"range":[4.2,146,223,292,341,383,440,484,534,589,658,708,775],"nice":false,"zero":false},"axis":null}}},
{"mark":{"type":"text","align":"right","baseline":"middle","dx":-6,"fontWeight":{"expr":"datum.entidad === 'Total' ? 'bold' : 'normal'"}},"encoding":{"text":{"field":"desocupada","type":"quantitative","format":",d"},"x":{"datum":3,"type":"quantitative","scale":{"domain":[0,1,2,3,4,5,6,7,8,9,10,11,12],"range":[4.2,146,223,292,341,383,440,484,534,589,658,708,775],"nice":false,"zero":false},"axis":null}}},
{"mark":{"type":"text","align":"right","baseline":"middle","dx":-9,"fontWeight":{"expr":"datum.entidad === 'Total' ? 'bold' : 'normal'"}},"encoding":{"text":{"field":"participacion","type":"quantitative","format":".1f"},"x":{"datum":4,"type":"quantitative","scale":{"domain":[0,1,2,3,4,5,6,7,8,9,10,11,12],"range":[4.2,146,223,292,341,383,440,484,534,589,658,708,775],"nice":false,"zero":false},"axis":null}}},
{"mark":{"type":"text","align":"right","baseline":"middle","dx":-11,"fontWeight":{"expr":"datum.entidad === 'Total' ? 'bold' : 'normal'"}},"encoding":{"text":{"field":"desocupacion","type":"quantitative","format":".1f"},"x":{"datum":5,"type":"quantitative","scale":{"domain":[0,1,2,3,4,5,6,7,8,9,10,11,12],"range":[4.2,146,223,292,341,383,440,484,534,589,658,708,775],"nice":false,"zero":false},"axis":null}}},
{"mark":{"type":"text","align":"right","baseline":"middle","dx":-12,"fontWeight":{"expr":"datum.entidad === 'Total' ? 'bold' : 'normal'"}},"encoding":{"text":{"field":"parcial","type":"quantitative","format":".1f"},"x":{"datum":6,"type":"quantitative","scale":{"domain":[0,1,2,3,4,5,6,7,8,9,10,11,12],"range":[4.2,146,223,292,341,383,440,484,534,589,658,708,775],"nice":false,"zero":false},"axis":null}}},
{"mark":{"type":"text","align":"right","baseline":"middle","dx":-11,"fontWeight":{"expr":"datum.entidad === 'Total' ? 'bold' : 'normal'"}},"encoding":{"text":{"field":"presion","type":"quantitative","format":".1f"},"x":{"datum":7,"type":"quantitative","scale":{"domain":[0,1,2,3,4,5,6,7,8,9,10,11,12],"range":[4.2,146,223,292,341,383,440,484,534,589,658,708,775],"nice":false,"zero":false},"axis":null}}},
{"mark":{"type":"text","align":"right","baseline":"middle","dx":-8,"fontWeight":{"expr":"datum.entidad === 'Total' ? 'bold' : 'normal'"}},"encoding":{"text":{"field":"asalariado","type":"quantitative","format":".1f"},"x":{"datum":8,"type":"quantitative","scale":{"domain":[0,1,2,3,4,5,6,7,8,9,10,11,12],"range":[4.2,146,223,292,341,383,440,484,534,589,658,708,775],"nice":false,"zero":false},"axis":null}}},
{"mark":{"type":"text","align":"right","baseline":"middle","dx":-11,"fontWeight":{"expr":"datum.entidad === 'Total' ? 'bold' : 'normal'"}},"encoding":{"text":{"field":"subocupacion","type":"quantitative","format":".1f"},"x":{"datum":9,"type":"quantitative","scale":{"domain":[0,1,2,3,4,5,6,7,8,9,10,11,12],"range":[4.2,146,223,292,341,383,440,484,534,589,658,708,775],"nice":false,"zero":false},"axis":null}}},
{"mark":{"type":"text","align":"right","baseline":"middle","dx":-17,"fontWeight":{"expr":"datum.entidad === 'Total' ? 'bold' : 'normal'"}},"encoding":{"text":{"field":"criticas","type":"quantitative","format":".1f"},"x":{"datum":10,"type":"quantitative","scale":{"domain":[0,1,2,3,4,5,6,7,8,9,10,11,12],"range":[4.2,146,223,292,341,383,440,484,534,589,658,708,775],"nice":false,"zero":false},"axis":null}}},
{"mark":{"type":"text","align":"right","baseline":"middle","dx":-11,"fontWeight":{"expr":"datum.entidad === 'Total' ? 'bold' : 'normal'"}},"encoding":{"text":{"field":"informalidad","type":"quantitative","format":".1f"},"x":{"datum":11,"type":"quantitative","scale":{"domain":[0,1,2,3,4,5,6,7,8,9,10,11,12],"range":[4.2,146,223,292,341,383,440,484,534,589,658,708,775],"nice":false,"zero":false},"axis":null}}},
{"mark":{"type":"text","align":"right","baseline":"middle","dx":-18,"fontWeight":{"expr":"datum.entidad === 'Total' ? 'bold' : 'normal'"}},"encoding":{"text":{"field":"sector_informal","type":"quantitative","format":".1f"},"x":{"datum":12,"type":"quantitative","scale":{"domain":[0,1,2,3,4,5,6,7,8,9,10,11,12],"range":[4.2,146,223,292,341,383,440,484,534,589,658,708,775],"nice":false,"zero":false},"axis":null}}}
 ]}
]
}
